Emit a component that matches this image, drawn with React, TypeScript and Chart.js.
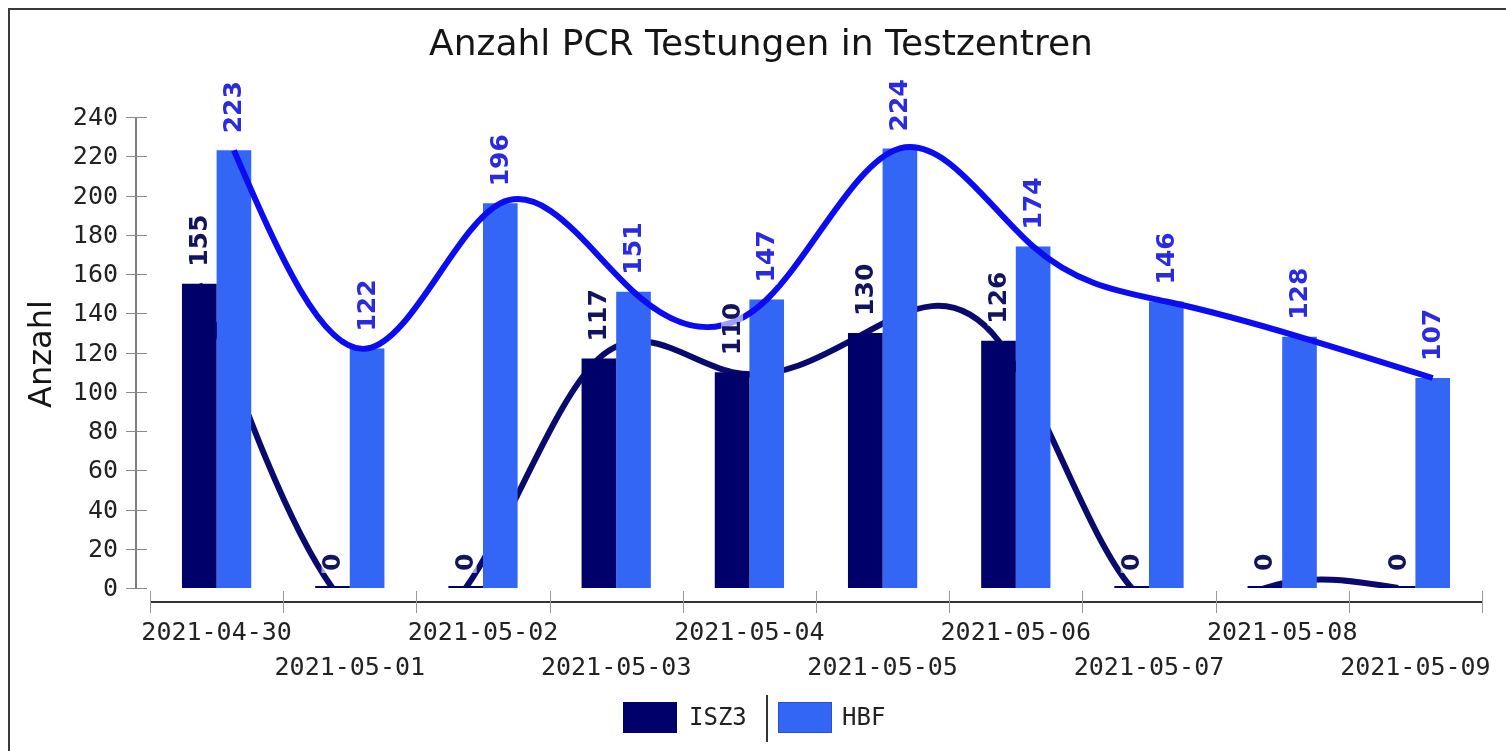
import React, { useEffect, useRef } from "react";
import { Chart, registerables } from "chart.js";

Chart.register(...registerables);

const TITLE = "Anzahl PCR Testungen in Testzentren";
const Y_TITLE = "Anzahl";
const CATEGORIES = [
  "2021-04-30",
  "2021-05-01",
  "2021-05-02",
  "2021-05-03",
  "2021-05-04",
  "2021-05-05",
  "2021-05-06",
  "2021-05-07",
  "2021-05-08",
  "2021-05-09",
];
const SERIES_NAMES = ["ISZ3", "HBF"];
const ISZ3 = [155, 0, 0, 117, 110, 130, 126, 0, 0, 0];
const HBF = [223, 122, 196, 151, 147, 224, 174, 146, 128, 107];
const Y_TICKS = [0, 20, 40, 60, 80, 100, 120, 140, 160, 180, 200, 220, 240];

const C_ISZ3_BAR = "#00006b";
const C_HBF_BAR = "#3366f5";
const C_ISZ3_LINE = "#0a0a6e";
const C_HBF_LINE = "#0c0cf2";
const C_ISZ3_LABEL = "#14145e";
const C_HBF_LABEL = "#2a2ae0";

const W = 1506;
const H = 751;
const CAT_PCT = 0.52;
const LINE_OFFSET = CAT_PCT / 4;

// natural cubic spline control points (interpolation style for the line element)
function applyNaturalSpline(points: any[]) {
  const n = points.length;
  if (n < 3) return;
  const xs = points.map((p) => p.x);
  const ys = points.map((p) => p.y);
  const h: number[] = [];
  for (let i = 0; i < n - 1; i++) h.push(xs[i + 1] - xs[i]);
  const M = new Array(n).fill(0);
  const a: number[] = new Array(n).fill(0);
  const b: number[] = new Array(n).fill(0);
  const c: number[] = new Array(n).fill(0);
  const d: number[] = new Array(n).fill(0);
  for (let i = 1; i < n - 1; i++) {
    a[i] = h[i - 1];
    b[i] = 2 * (h[i - 1] + h[i]);
    c[i] = h[i];
    d[i] = 6 * ((ys[i + 1] - ys[i]) / h[i] - (ys[i] - ys[i - 1]) / h[i - 1]);
  }
  const cp: number[] = new Array(n).fill(0);
  const dp: number[] = new Array(n).fill(0);
  for (let i = 1; i < n - 1; i++) {
    const denom = b[i] - a[i] * (i > 1 ? cp[i - 1] : 0);
    cp[i] = c[i] / denom;
    dp[i] = (d[i] - a[i] * (i > 1 ? dp[i - 1] : 0)) / denom;
  }
  for (let i = n - 2; i >= 1; i--) {
    M[i] = dp[i] - cp[i] * (i < n - 2 ? M[i + 1] : 0);
  }
  for (let i = 0; i < n - 1; i++) {
    const hi = h[i];
    const s = (ys[i + 1] - ys[i]) / hi;
    const d0 = s - (hi * (2 * M[i] + M[i + 1])) / 6;
    const d1 = s + (hi * (M[i] + 2 * M[i + 1])) / 6;
    points[i].cp2x = xs[i] + hi / 3;
    points[i].cp2y = ys[i] + (d0 * hi) / 3;
    points[i + 1].cp1x = xs[i + 1] - hi / 3;
    points[i + 1].cp1y = ys[i + 1] - (d1 * hi) / 3;
  }
  points[0].cp1x = xs[0];
  points[0].cp1y = ys[0];
  points[n - 1].cp2x = xs[n - 1];
  points[n - 1].cp2y = ys[n - 1];
}

const overlayPlugin = {
  id: "overlay",
  beforeDraw(chart: any) {
    const ctx = chart.ctx;
    const y = chart.scales.y;
    const xl = chart.scales.xl;
    ctx.save();
    ctx.fillStyle = "#ffffff";
    ctx.fillRect(0, 0, W, H);
    // frame
    ctx.strokeStyle = "#3a3a3a";
    ctx.lineWidth = 2;
    ctx.beginPath();
    ctx.moveTo(9, H + 5);
    ctx.lineTo(9, 9);
    ctx.lineTo(W + 5, 9);
    ctx.stroke();

    // title
    ctx.fillStyle = "#151515";
    ctx.font = "36px 'DejaVu Sans'";
    ctx.textAlign = "center";
    ctx.textBaseline = "middle";
    ctx.fillText(TITLE, 761, 46);

    // y axis title
    ctx.save();
    ctx.translate(43, 354);
    ctx.rotate(-Math.PI / 2);
    ctx.font = "32px 'DejaVu Sans'";
    ctx.fillText(Y_TITLE, 0, 0);
    ctx.restore();

    // y axis line
    const yAxisX = 136;
    ctx.strokeStyle = "#555555";
    ctx.lineWidth = 1.5;
    ctx.beginPath();
    ctx.moveTo(yAxisX, y.getPixelForValue(240));
    ctx.lineTo(yAxisX, y.getPixelForValue(0));
    ctx.stroke();
    // y ticks + labels
    ctx.font = "25px 'DejaVu Sans Mono'";
    ctx.textAlign = "right";
    ctx.textBaseline = "middle";
    for (const t of Y_TICKS) {
      const py = Math.round(y.getPixelForValue(t)) + 0.5;
      ctx.strokeStyle = "#8a8a8a";
      ctx.lineWidth = 1;
      ctx.beginPath();
      ctx.moveTo(126, py);
      ctx.lineTo(147, py);
      ctx.stroke();
      ctx.fillStyle = "#222222";
      ctx.fillText(String(t), 118, py + 1);
    }

    // x axis line
    const axisY = 602;
    const xStart = xl.getPixelForValue(-0.5);
    const xEnd = xl.getPixelForValue(CATEGORIES.length - 0.5);
    ctx.strokeStyle = "#333333";
    ctx.lineWidth = 2;
    ctx.beginPath();
    ctx.moveTo(xStart, axisY);
    ctx.lineTo(xEnd, axisY);
    ctx.stroke();
    ctx.strokeStyle = "#9a9a9a";
    ctx.lineWidth = 1;
    for (let i = 0; i <= CATEGORIES.length; i++) {
      const px = Math.round(xl.getPixelForValue(i - 0.5)) + 0.5;
      ctx.beginPath();
      ctx.moveTo(px, 591);
      ctx.lineTo(px, 613);
      ctx.stroke();
    }
    ctx.fillStyle = "#222222";
    ctx.textAlign = "center";
    ctx.font = "25px 'DejaVu Sans Mono'";
    CATEGORIES.forEach((c, i) => {
      const px = xl.getPixelForValue(i);
      const py = i % 2 === 0 ? 633 : 668;
      ctx.fillText(c, px, py);
    });

    // legend
    const legendY = 702;
    const boxW = 54;
    const boxH = 31;
    ctx.fillStyle = C_ISZ3_BAR;
    ctx.fillRect(623, legendY, boxW, boxH);
    ctx.fillStyle = C_HBF_BAR;
    ctx.fillRect(778, legendY, boxW, boxH);
    ctx.strokeStyle = "#2a4fd0";
    ctx.lineWidth = 1;
    ctx.strokeRect(778.5, legendY + 0.5, boxW - 1, boxH - 1);
    ctx.fillStyle = "#222222";
    ctx.textAlign = "left";
    ctx.font = "24px 'DejaVu Sans Mono'";
    ctx.fillText(SERIES_NAMES[0], 689, legendY + boxH / 2 + 1);
    ctx.fillText(SERIES_NAMES[1], 842, legendY + boxH / 2 + 1);
    ctx.strokeStyle = "#333333";
    ctx.lineWidth = 2;
    ctx.beginPath();
    ctx.moveTo(767, 695);
    ctx.lineTo(767, 742);
    ctx.stroke();
    ctx.restore();
  },
  beforeDatasetsDraw(chart: any) {
    chart.data.datasets.forEach((ds: any, i: number) => {
      const meta = chart.getDatasetMeta(i);
      if (meta.type === "line") applyNaturalSpline(meta.data);
    });
  },
  afterDatasetsDraw(chart: any) {
    const ctx = chart.ctx;
    const y = chart.scales.y;
    ctx.save();
    ctx.font = "bold 25px 'DejaVu Sans'";
    ctx.textBaseline = "middle";
    ctx.textAlign = "left";
    const series = [ISZ3, HBF];
    [0, 1].forEach((di) => {
      const meta = chart.getDatasetMeta(di);
      const values = series[di];
      meta.data.forEach((bar: any, i: number) => {
        const text = String(values[i]);
        const tw = ctx.measureText(text).width;
        const bx = bar.x;
        const by = y.getPixelForValue(values[i]) - 17;
        ctx.save();
        ctx.translate(bx, by);
        ctx.rotate(-Math.PI / 2);
        ctx.fillStyle = "rgba(255,255,255,0.6)";
        ctx.fillRect(-2, -11, tw + 4, 22);
        ctx.fillStyle = di === 0 ? C_ISZ3_LABEL : C_HBF_LABEL;
        ctx.fillText(text, 0, 1);
        ctx.restore();
      });
    });
    ctx.restore();
  },
};

export default function App() {
  const ref = useRef<HTMLCanvasElement | null>(null);
  useEffect(() => {
    if (!ref.current) return;
    const lineClip = { left: 10, top: 10, right: 10, bottom: 0 };
    const chart = new Chart(ref.current, {
      type: "bar",
      data: {
        datasets: [
          {
            type: "bar",
            label: SERIES_NAMES[0],
            data: ISZ3.map((v, i) => ({ x: i, y: v })),
            backgroundColor: C_ISZ3_BAR,
            borderWidth: 0,
            minBarLength: 2,
            xAxisID: "xl",
            yAxisID: "y",
            categoryPercentage: CAT_PCT,
            barPercentage: 1,
            order: 1,
          },
          {
            type: "bar",
            label: SERIES_NAMES[1],
            data: HBF.map((v, i) => ({ x: i, y: v })),
            backgroundColor: C_HBF_BAR,
            borderWidth: 0,
            xAxisID: "xl",
            yAxisID: "y",
            categoryPercentage: CAT_PCT,
            barPercentage: 1,
            order: 1,
          },
          {
            type: "line",
            label: SERIES_NAMES[0] + " line",
            data: ISZ3.map((v, i) => ({ x: i - LINE_OFFSET, y: v })),
            borderColor: C_ISZ3_LINE,
            borderWidth: 6,
            pointRadius: 0,
            tension: 0.4,
            xAxisID: "xl",
            yAxisID: "y",
            order: 2,
            clip: lineClip,
          },
          {
            type: "line",
            label: SERIES_NAMES[1] + " line",
            data: HBF.map((v, i) => ({ x: i + LINE_OFFSET, y: v })),
            borderColor: C_HBF_LINE,
            borderWidth: 6,
            pointRadius: 0,
            tension: 0.4,
            xAxisID: "xl",
            yAxisID: "y",
            order: 0,
            clip: lineClip,
          },
        ] as any,
      },
      options: {
        responsive: false,
        animation: false,
        devicePixelRatio: 1,
        layout: { padding: { left: 150, right: 24, top: 117, bottom: 163 } },
        plugins: {
          legend: { display: false },
          title: { display: false },
          tooltip: { enabled: false },
        },
        scales: {
          xl: {
            type: "linear",
            display: false,
            offset: false,
            grid: { offset: false },
            min: -0.5,
            max: CATEGORIES.length - 0.5,
            ticks: { stepSize: 1, includeBounds: false },
          },
          y: { type: "linear", display: false, min: 0, max: 240 },
        },
      } as any,
      plugins: [overlayPlugin],
    });
    return () => chart.destroy();
  }, []);
  return (
    <div style={{ position: "fixed", left: 0, top: 0, width: W, height: H, background: "#fff" }}>
      <canvas ref={ref} width={W} height={H} style={{ display: "block", width: W, height: H }} />
    </div>
  );
}
